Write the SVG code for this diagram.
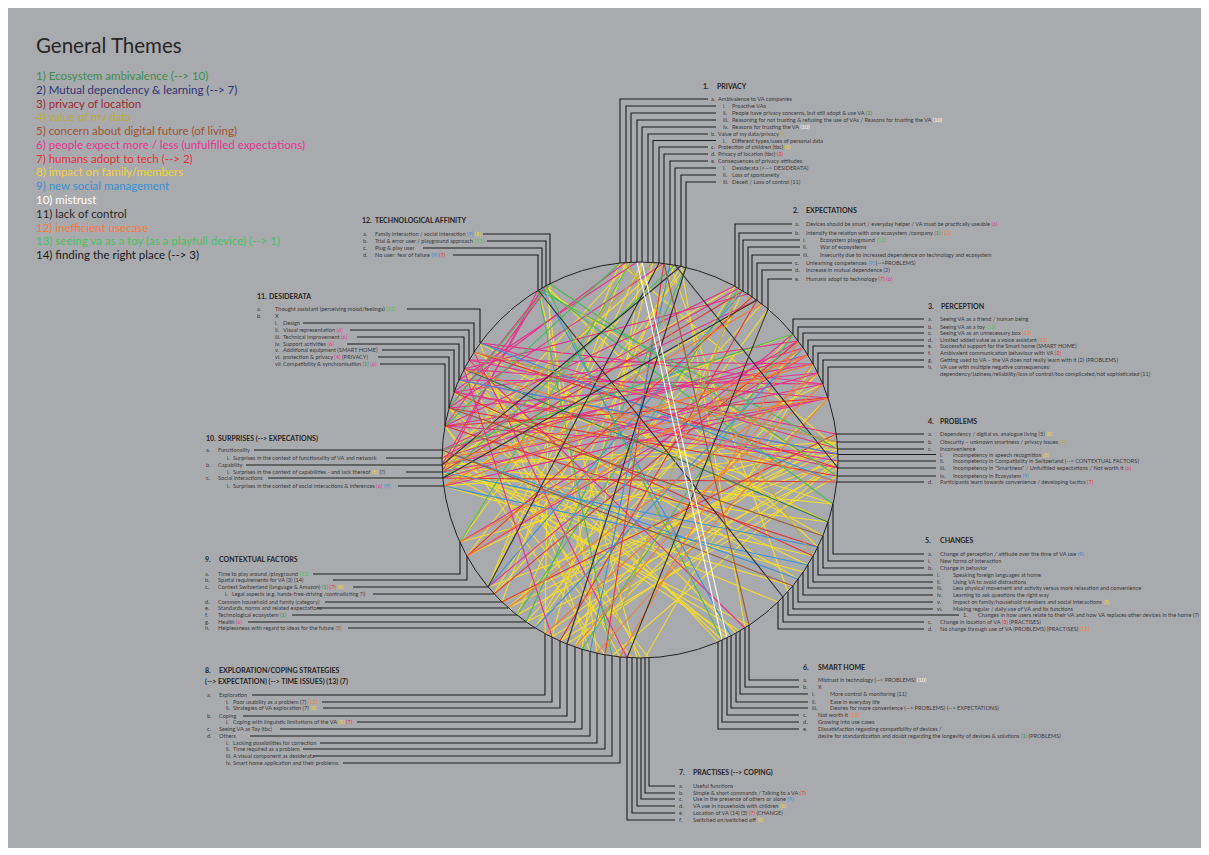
<svg xmlns="http://www.w3.org/2000/svg" width="1209" height="855" viewBox="0 0 1209 855">
<style>
.t{font-family:Lato,"Liberation Sans",sans-serif;font-size:5.6px;fill:#3a3a3c}
.h{font-family:Lato,"Liberation Sans",sans-serif;font-size:7px;font-weight:bold;fill:#262626}
.lg{font-family:Lato,"Liberation Sans",sans-serif;font-size:11.5px}
.cn{fill:none;stroke:#1c1c1c;stroke-width:1.1}
.ch line{stroke-width:1.1}
.c1{fill:#3d8d4f}.c2{fill:#2d3573}.c3{fill:#9c2a36}.c4{fill:#b8ab3f}.c5{fill:#9c5530}.c6{fill:#e2378e}.c7{fill:#e2343c}.c8{fill:#f1d23a}.c9{fill:#3a90d4}.c10{fill:#ffffff}.c11{fill:#2a2a2a}.c12{fill:#f17a3e}.c13{fill:#4cc160}.c14{fill:#1a1a1a}
.y{stroke:#f3dc2c}.p{stroke:#e6338b}.r{stroke:#e2343a}.g{stroke:#4ab95a}.dg{stroke:#2f7d45}.b{stroke:#3d93d6}.o{stroke:#f27b38}.w{stroke:#ffffff}.k{stroke:#2e2e33}.ol{stroke:#b8a84a}.br{stroke:#9c5a3a}
</style>
<rect x="0" y="0" width="1209" height="855" fill="#ffffff"/>
<rect x="8" y="8" width="1193" height="840" fill="#a9aaae"/>

<g id="legend">
<text x="36" y="53" font-family="Lato,'Liberation Sans',sans-serif" font-size="20.5" fill="#262626">General Themes</text>
<text class="lg c1" x="36" y="80">1) Ecosystem ambivalence (--&gt; 10)</text>
<text class="lg c2" x="36" y="93.8">2) Mutual dependency &amp; learning (--&gt; 7)</text>
<text class="lg c3" x="36" y="107.5">3) privacy of location</text>
<text class="lg c4" x="36" y="121.3">4) value of my data</text>
<text class="lg c5" x="36" y="135.1">5) concern about digital future (of living)</text>
<text class="lg c6" x="36" y="148.9">6) people expect more / less (unfulfilled expectations)</text>
<text class="lg c7" x="36" y="162.6">7) humans adopt to tech (--&gt; 2)</text>
<text class="lg c8" x="36" y="176.4">8) impact on family/members</text>
<text class="lg c9" x="36" y="190.2">9) new social management</text>
<text class="lg c10" x="36" y="203.9">10) mistrust</text>
<text class="lg c11" x="36" y="217.7">11) lack of control</text>
<text class="lg c12" x="36" y="231.5">12) inefficient usecase</text>
<text class="lg c13" x="36" y="245.3">13) seeing va as a toy (as a playfull device) (--&gt; 1)</text>
<text class="lg c14" x="36" y="259">14) finding the right place (--&gt; 3)</text>
</g>

<g id="chords" class="ch">
<line class="y" x1="442" y1="465" x2="838" y2="449"/>
<line class="y" x1="442" y1="465" x2="837" y2="442"/>
<line class="y" x1="442" y1="465" x2="833" y2="504"/>
<line class="y" x1="442" y1="465" x2="735" y2="286"/>
<line class="y" x1="442" y1="465" x2="631" y2="262"/>
<line class="y" x1="442" y1="472" x2="828" y2="522"/>
<line class="y" x1="442" y1="472" x2="813" y2="556"/>
<line class="y" x1="442" y1="472" x2="749" y2="625"/>
<line class="y" x1="442" y1="458" x2="664" y2="263"/>
<line class="y" x1="442" y1="458" x2="793" y2="334"/>
<line class="y" x1="444" y1="486" x2="838" y2="454"/>
<line class="y" x1="444" y1="486" x2="757" y2="300"/>
<line class="y" x1="460" y1="542" x2="659" y2="263"/>
<line class="y" x1="460" y1="542" x2="837" y2="442"/>
<line class="y" x1="467" y1="556" x2="686" y2="267"/>
<line class="y" x1="467" y1="556" x2="823" y2="384"/>
<line class="y" x1="488" y1="587" x2="642" y2="262"/>
<line class="y" x1="488" y1="587" x2="838" y2="461"/>
<line class="y" x1="494" y1="594" x2="762" y2="304"/>
<line class="y" x1="502" y1="602" x2="626" y2="262"/>
<line class="y" x1="508" y1="608" x2="803" y2="348"/>
<line class="y" x1="517" y1="615" x2="675" y2="265"/>
<line class="y" x1="526" y1="622" x2="838" y2="468"/>
<line class="y" x1="535" y1="628" x2="768" y2="309"/>
<line class="y" x1="545" y1="634" x2="550" y2="284"/>
<line class="y" x1="552" y1="637" x2="653" y2="262"/>
<line class="y" x1="560" y1="641" x2="818" y2="373"/>
<line class="y" x1="575" y1="647" x2="743" y2="291"/>
<line class="y" x1="590" y1="652" x2="480" y2="343"/>
<line class="y" x1="605" y1="655" x2="445" y2="426"/>
<line class="y" x1="620" y1="657" x2="464" y2="369"/>
<line class="y" x1="637" y1="658" x2="538" y2="290"/>
<line class="y" x1="641" y1="658" x2="474" y2="352"/>
<line class="y" x1="727" y1="638" x2="449" y2="408"/>
<line class="y" x1="736" y1="633" x2="469" y2="360"/>
<line class="y" x1="798" y1="579" x2="459" y2="380"/>
<line class="y" x1="808" y1="565" x2="454" y2="392"/>
<line class="y" x1="818" y1="547" x2="546" y2="286"/>
<line class="y" x1="838" y1="449" x2="620" y2="263"/>
<line class="y" x1="837" y1="476" x2="542" y2="288"/>
<line class="y" x1="836" y1="434" x2="545" y2="634"/>
<line class="y" x1="838" y1="461" x2="567" y2="644"/>
<line class="y" x1="823" y1="536" x2="480" y2="343"/>
<line class="y" x1="788" y1="592" x2="670" y2="264"/>
<line class="y" x1="745" y1="628" x2="681" y2="266"/>
<line class="y" x1="502" y1="602" x2="838" y2="449"/>
<line class="y" x1="508" y1="608" x2="837" y2="442"/>
<line class="y" x1="517" y1="615" x2="836" y2="434"/>
<line class="y" x1="526" y1="622" x2="793" y2="334"/>
<line class="y" x1="535" y1="628" x2="735" y2="286"/>
<line class="y" x1="494" y1="594" x2="681" y2="266"/>
<line class="y" x1="488" y1="587" x2="620" y2="263"/>
<line class="y" x1="460" y1="542" x2="631" y2="262"/>
<line class="y" x1="467" y1="556" x2="752" y2="297"/>
<line class="y" x1="552" y1="637" x2="838" y2="454"/>
<line class="y" x1="560" y1="641" x2="837" y2="476"/>
<line class="y" x1="575" y1="647" x2="828" y2="398"/>
<line class="y" x1="582" y1="649" x2="642" y2="262"/>
<line class="y" x1="597" y1="653" x2="546" y2="286"/>
<line class="y" x1="612" y1="656" x2="838" y2="461"/>
<line class="y" x1="627" y1="658" x2="768" y2="309"/>
<line class="y" x1="632" y1="658" x2="445" y2="426"/>
<line class="y" x1="645" y1="658" x2="813" y2="364"/>
<line class="y" x1="649" y1="658" x2="449" y2="408"/>
<line class="y" x1="740" y1="631" x2="442" y2="458"/>
<line class="y" x1="731" y1="636" x2="442" y2="450"/>
<line class="y" x1="722" y1="640" x2="454" y2="392"/>
<line class="y" x1="718" y1="642" x2="464" y2="369"/>
<line class="y" x1="778" y1="602" x2="442" y2="465"/>
<line class="y" x1="793" y1="586" x2="444" y2="486"/>
<line class="y" x1="803" y1="572" x2="442" y2="472"/>
<line class="y" x1="828" y1="522" x2="474" y2="352"/>
<line class="y" x1="833" y1="504" x2="459" y2="380"/>
<line class="p" x1="480" y1="343" x2="838" y2="449"/>
<line class="p" x1="474" y1="352" x2="837" y2="442"/>
<line class="p" x1="469" y1="360" x2="836" y2="434"/>
<line class="p" x1="464" y1="369" x2="828" y2="398"/>
<line class="p" x1="459" y1="380" x2="823" y2="384"/>
<line class="p" x1="454" y1="392" x2="838" y2="461"/>
<line class="p" x1="449" y1="408" x2="818" y2="373"/>
<line class="p" x1="445" y1="426" x2="813" y2="364"/>
<line class="p" x1="442" y1="450" x2="808" y2="355"/>
<line class="p" x1="442" y1="458" x2="803" y2="348"/>
<line class="p" x1="469" y1="360" x2="745" y2="628"/>
<line class="p" x1="474" y1="352" x2="627" y2="658"/>
<line class="p" x1="464" y1="369" x2="552" y2="637"/>
<line class="p" x1="459" y1="380" x2="838" y2="454"/>
<line class="p" x1="454" y1="392" x2="798" y2="341"/>
<line class="p" x1="445" y1="426" x2="550" y2="284"/>
<line class="p" x1="449" y1="408" x2="546" y2="286"/>
<line class="p" x1="454" y1="392" x2="626" y2="262"/>
<line class="p" x1="442" y1="465" x2="542" y2="288"/>
<line class="p" x1="442" y1="472" x2="538" y2="290"/>
<line class="p" x1="459" y1="380" x2="637" y2="262"/>
<line class="p" x1="445" y1="426" x2="735" y2="286"/>
<line class="p" x1="449" y1="408" x2="664" y2="263"/>
<line class="p" x1="442" y1="450" x2="757" y2="300"/>
<line class="p" x1="442" y1="458" x2="739" y2="288"/>
<line class="p" x1="443" y1="478" x2="818" y2="373"/>
<line class="p" x1="444" y1="486" x2="828" y2="398"/>
<line class="p" x1="460" y1="542" x2="798" y2="341"/>
<line class="p" x1="467" y1="556" x2="808" y2="355"/>
<line class="p" x1="464" y1="369" x2="748" y2="294"/>
<line class="p" x1="469" y1="360" x2="813" y2="364"/>
<line class="p" x1="480" y1="343" x2="823" y2="384"/>
<line class="p" x1="454" y1="392" x2="838" y2="468"/>
<line class="p" x1="442" y1="465" x2="823" y2="384"/>
<line class="p" x1="442" y1="472" x2="828" y2="398"/>
<line class="p" x1="488" y1="587" x2="793" y2="334"/>
<line class="p" x1="445" y1="426" x2="838" y2="454"/>
<line class="r" x1="474" y1="352" x2="838" y2="468"/>
<line class="r" x1="449" y1="408" x2="837" y2="476"/>
<line class="r" x1="443" y1="478" x2="837" y2="482"/>
<line class="r" x1="757" y1="300" x2="560" y2="641"/>
<line class="r" x1="798" y1="341" x2="494" y2="594"/>
<line class="r" x1="836" y1="434" x2="502" y2="602"/>
<line class="r" x1="664" y1="263" x2="605" y2="655"/>
<line class="r" x1="828" y1="398" x2="445" y2="426"/>
<line class="r" x1="752" y1="297" x2="467" y2="556"/>
<line class="r" x1="813" y1="556" x2="454" y2="392"/>
<line class="r" x1="743" y1="291" x2="442" y2="472"/>
<line class="r" x1="818" y1="547" x2="445" y2="426"/>
<line class="g" x1="550" y1="284" x2="837" y2="476"/>
<line class="g" x1="546" y1="286" x2="722" y2="640"/>
<line class="g" x1="542" y1="288" x2="833" y2="504"/>
<line class="g" x1="538" y1="290" x2="612" y2="656"/>
<line class="g" x1="620" y1="263" x2="445" y2="426"/>
<line class="g" x1="631" y1="262" x2="460" y2="542"/>
<line class="g" x1="550" y1="284" x2="449" y2="408"/>
<line class="g" x1="538" y1="290" x2="838" y2="449"/>
<line class="g" x1="739" y1="288" x2="517" y2="615"/>
<line class="g" x1="793" y1="334" x2="582" y2="649"/>
<line class="dg" x1="828" y1="522" x2="464" y2="369"/>
<line class="g" x1="686" y1="267" x2="526" y2="622"/>
<line class="g" x1="442" y1="450" x2="793" y2="334"/>
<line class="g" x1="443" y1="478" x2="675" y2="265"/>
<line class="b" x1="442" y1="472" x2="818" y2="547"/>
<line class="b" x1="444" y1="486" x2="808" y2="565"/>
<line class="b" x1="743" y1="291" x2="488" y2="587"/>
<line class="b" x1="803" y1="348" x2="535" y2="628"/>
<line class="b" x1="838" y1="454" x2="459" y2="380"/>
<line class="b" x1="731" y1="636" x2="542" y2="288"/>
<line class="b" x1="670" y1="264" x2="590" y2="652"/>
<line class="b" x1="798" y1="579" x2="442" y2="450"/>
<line class="b" x1="837" y1="482" x2="480" y2="343"/>
<line class="o" x1="823" y1="384" x2="545" y2="634"/>
<line class="o" x1="818" y1="373" x2="508" y2="608"/>
<line class="o" x1="813" y1="364" x2="575" y2="647"/>
<line class="o" x1="808" y1="355" x2="460" y2="542"/>
<line class="o" x1="828" y1="398" x2="597" y2="653"/>
<line class="o" x1="803" y1="348" x2="467" y2="556"/>
<line class="o" x1="837" y1="482" x2="464" y2="369"/>
<line class="o" x1="798" y1="341" x2="620" y2="657"/>
<line class="o" x1="828" y1="398" x2="442" y2="458"/>
<line class="o" x1="762" y1="304" x2="444" y2="486"/>
<line class="o" x1="813" y1="364" x2="442" y2="465"/>
<line class="o" x1="808" y1="355" x2="444" y2="486"/>
<line class="k" x1="681" y1="266" x2="442" y2="465"/>
<line class="k" x1="757" y1="300" x2="443" y2="478"/>
<line class="k" x1="675" y1="265" x2="838" y2="468"/>
<line class="k" x1="783" y1="597" x2="538" y2="290"/>
<line class="k" x1="659" y1="263" x2="488" y2="587"/>
<line class="k" x1="768" y1="309" x2="627" y2="658"/>
<line class="k" x1="686" y1="267" x2="567" y2="644"/>
<line class="ol" x1="653" y1="262" x2="442" y2="472"/>
<line class="ol" x1="739" y1="288" x2="605" y2="655"/>
<line class="ol" x1="813" y1="556" x2="626" y2="262"/>
<line class="ol" x1="837" y1="442" x2="474" y2="352"/>
<line class="br" x1="823" y1="536" x2="449" y2="408"/>
<line class="br" x1="664" y1="263" x2="749" y2="625"/>
<line class="br" x1="793" y1="586" x2="442" y2="450"/>
<line class="w" x1="637" y1="262" x2="722" y2="640" stroke-width="1.6"/>
<line class="w" x1="642" y1="262" x2="727" y2="638"/>
</g>

<circle id="circle" cx="640" cy="460" r="198" fill="none" stroke="#222" stroke-width="1"/>

<g id="connectors" class="cn">
<polyline points="708,99 620,99 620,263"/>
<polyline points="716,106 626,106 626,262"/>
<polyline points="716,113 631,113 631,262"/>
<polyline points="716,120 637,120 637,262"/>
<polyline points="716,127 642,127 642,262"/>
<polyline points="708,134 648,134 648,262"/>
<polyline points="716,140.5 653,140.5 653,262"/>
<polyline points="708,147 659,147 659,263"/>
<polyline points="708,154 664,154 664,263"/>
<polyline points="708,161 670,161 670,264"/>
<polyline points="716,168 675,168 675,265"/>
<polyline points="716,175 681,175 681,266"/>
<polyline points="716,182 686,182 686,267"/>

<polyline points="792,224 735,224 735,286"/>
<polyline points="792,233 739,233 739,288"/>
<polyline points="800,240 743,240 743,291"/>
<polyline points="800,247 748,247 748,294"/>
<polyline points="800,255 752,255 752,297"/>
<polyline points="792,263 757,263 757,300"/>
<polyline points="792,270 762,270 762,304"/>
<polyline points="792,279 768,279 768,309"/>

<polyline points="924,319 793,319 793,334"/>
<polyline points="924,327 798,327 798,341"/>
<polyline points="924,333 803,333 803,348"/>
<polyline points="924,340 808,340 808,355"/>
<polyline points="924,346 813,346 813,364"/>
<polyline points="924,353 818,353 818,373"/>
<polyline points="924,360 823,360 823,384"/>
<polyline points="924,367 828,367 828,398"/>

<polyline points="836,434 924,434"/>
<polyline points="837,442 924,442"/>
<polyline points="838,449 924,449"/>
<polyline points="838,454.5 936,454.5"/>
<polyline points="838,461 936,461"/>
<polyline points="838,468 936,468"/>
<polyline points="837,476 936,476"/>
<polyline points="837,482 924,482"/>

<polyline points="924,554 833,554 833,504"/>
<polyline points="924,561 828,561 828,522"/>
<polyline points="924,568 823,568 823,536"/>
<polyline points="933,575 818,575 818,547"/>
<polyline points="933,582 813,582 813,556"/>
<polyline points="933,588 808,588 808,565"/>
<polyline points="933,595 803,595 803,572"/>
<polyline points="933,602 798,602 798,579"/>
<polyline points="933,609 793,609 793,586"/>
<polyline points="959,615 788,615 788,592"/>
<polyline points="924,622 783,622 783,597"/>
<polyline points="924,629 778,629 778,602"/>

<polyline points="799,680 749,680 749,625"/>
<polyline points="799,687 745,687 745,628"/>
<polyline points="808,694 740,694 740,631"/>
<polyline points="808,702 736,702 736,633"/>
<polyline points="808,708 731,708 731,636"/>
<polyline points="799,715 727,715 727,638"/>
<polyline points="799,722 722,722 722,640"/>
<polyline points="799,729 718,729 718,642"/>

<polyline points="675,786 649,786 649,658"/>
<polyline points="675,793 645,793 645,658"/>
<polyline points="675,799 641,799 641,658"/>
<polyline points="675,806 637,806 637,658"/>
<polyline points="675,813 632,813 632,658"/>
<polyline points="675,820 627,820 627,658"/>

<polyline points="252,695 545,695 545,634"/>
<polyline points="322,702 552,702 552,637"/>
<polyline points="323,708 560,708 560,641"/>
<polyline points="243,716 567,716 567,644"/>
<polyline points="357,722 575,722 575,647"/>
<polyline points="280,729 582,729 582,649"/>
<polyline points="250,736 590,736 590,652"/>
<polyline points="320,743 597,743 597,653"/>
<polyline points="303,749 605,749 605,655"/>
<polyline points="313,756 612,756 612,656"/>
<polyline points="343,763 620,763 620,657"/>

<polyline points="313,574 460,574 460,542"/>
<polyline points="333,580 467,580 467,556"/>
<polyline points="353,587 488,587"/>
<polyline points="373,594 494,594"/>
<polyline points="325,602 502,602"/>
<polyline points="317,608 508,608"/>
<polyline points="292,615 517,615"/>
<polyline points="248,622 526,622"/>
<polyline points="348,628 535,628"/>

<polyline points="254,450 442,450"/>
<polyline points="386,458 442,458"/>
<polyline points="246,465 442,465"/>
<polyline points="406,472 442,472"/>
<polyline points="268,478 443,478"/>
<polyline points="398,486 444,486"/>

<polyline points="407,309 480,309 480,343"/>
<polyline points="303,323 474,323 474,352"/>
<polyline points="350,330 469,330 469,360"/>
<polyline points="357,337 464,337 464,369"/>
<polyline points="347,344 459,344 459,380"/>
<polyline points="382,350 454,350 454,392"/>
<polyline points="378,357 449,357 449,408"/>
<polyline points="380,364 445,364 445,426"/>

<polyline points="483,234 550,234 550,284"/>
<polyline points="487,241 546,241 546,286"/>
<polyline points="423,248 542,248 542,288"/>
<polyline points="453,255 538,255 538,290"/>
</g>

<g id="privacy">
<text class="h" x="703" y="88.5">1.</text><text class="h" x="717" y="88.5">PRIVACY</text>
<text class="t" x="711" y="101">a.</text><text class="t" x="718" y="101">Ambivalence to VA companies</text>
<text class="t" x="723" y="108">i.</text><text class="t" x="732" y="108">Proactive VAs</text>
<text class="t" x="723" y="115">ii.</text><text class="t" x="732" y="115">People have privacy concerns, but still adopt &amp; use VA <tspan class="c1">(1)</tspan></text>
<text class="t" x="723" y="122">iii.</text><text class="t" x="732" y="122">Reasoning for not trusting &amp; refusing the use of VAs / Reasons for trusting the VA <tspan class="c10">(10)</tspan></text>
<text class="t" x="723" y="129">iv.</text><text class="t" x="732" y="129">Reasons for trusting the VA <tspan class="c10">(10)</tspan></text>
<text class="t" x="711" y="136">b.</text><text class="t" x="718" y="136">Value of my data/privacy <tspan class="c4">(4)</tspan></text>
<text class="t" x="723" y="142.5">i.</text><text class="t" x="732" y="142.5">Different types/uses of personal data</text>
<text class="t" x="711" y="149">c.</text><text class="t" x="718" y="149">Protection of children (tbc) <tspan class="c8">(8)</tspan></text>
<text class="t" x="711" y="156">d.</text><text class="t" x="718" y="156">Privacy of location (tbc) <tspan class="c7">(3)</tspan></text>
<text class="t" x="711" y="163">e.</text><text class="t" x="718" y="163">Consequences of privacy attitudes</text>
<text class="t" x="723" y="170">i.</text><text class="t" x="732" y="170">Desiderata (&lt;--&gt; DESIDERATA)</text>
<text class="t" x="723" y="177">ii.</text><text class="t" x="732" y="177">Loss of spontaneity</text>
<text class="t" x="723" y="184">iii.</text><text class="t" x="732" y="184">Deceit / Loss of control (11)</text>
</g>

<g id="expectations">
<text class="h" x="793" y="212.5">2.</text><text class="h" x="806" y="212.5">EXPECTATIONS</text>
<text class="t" x="795" y="226.2">a.</text><text class="t" x="806" y="226.2">Devices should be smart / everyday helper / VA must be practically useable <tspan class="c6">(6)</tspan></text>
<text class="t" x="795" y="234.7">b.</text><text class="t" x="806" y="234.7">Intensify the relation with one ecosystem /company <tspan class="c1">(1)</tspan> <tspan class="c12">(12)</tspan></text>
<text class="t" x="803" y="242.2">i.</text><text class="t" x="820" y="242.2">Ecosystem playground <tspan class="c13">(13)</tspan></text>
<text class="t" x="803" y="249.2">ii.</text><text class="t" x="820" y="249.2">War of ecosystems</text>
<text class="t" x="803" y="257.2">iii.</text><text class="t" x="820" y="257.2">Insecurity due to increased dependence on technology and ecosystem</text>
<text class="t" x="795" y="264.7">c.</text><text class="t" x="806" y="264.7">Unlearning competences <tspan class="c9">(9)</tspan> (--&gt;PROBLEMS)</text>
<text class="t" x="795" y="272.2">d.</text><text class="t" x="806" y="272.2">Increase in mutual dependence <tspan class="c2">(2)</tspan></text>
<text class="t" x="795" y="280.7">e.</text><text class="t" x="806" y="280.7">Humans adopt to technology <tspan class="c7">(7)</tspan> <tspan class="c6">(6)</tspan></text>
</g>

<g id="perception">
<text class="h" x="928" y="308.5">3.</text><text class="h" x="941" y="308.5">PERCEPTION</text>
<text class="t" x="928" y="321">a.</text><text class="t" x="940" y="321">Seeing VA as a friend / human being</text>
<text class="t" x="928" y="329">b.</text><text class="t" x="940" y="329">Seeing VA as a toy <tspan class="c13">(13)</tspan></text>
<text class="t" x="928" y="335">c.</text><text class="t" x="940" y="335">Seeing VA as an unnecessary box <tspan class="c12">(12)</tspan></text>
<text class="t" x="928" y="342">d.</text><text class="t" x="940" y="342">Limited added value as a voice assistant <tspan class="c12">(12)</tspan></text>
<text class="t" x="928" y="348">e.</text><text class="t" x="940" y="348">Successful support for the Smart home (SMART HOME)</text>
<text class="t" x="928" y="355">f.</text><text class="t" x="940" y="355">Ambivalent communication behaviour with VA <tspan class="c7">(2)</tspan></text>
<text class="t" x="928" y="362">g.</text><text class="t" x="940" y="362">Getting used to VA – the VA does not really learn with it (2) (PROBLEMS)</text>
<text class="t" x="928" y="369">h.</text><text class="t" x="940" y="369">VA use with multiple negative consequences:</text>
<text class="t" x="940" y="375.5">dependency/laziness/reliability/loss of control/too complicated/not sophisticated (11)</text>
</g>

<g id="problems">
<text class="h" x="928" y="423.5">4.</text><text class="h" x="940" y="423.5">PROBLEMS</text>
<text class="t" x="928" y="436">a.</text><text class="t" x="940" y="436">Dependency / digital vs. analogue living (5) <tspan class="c8">(8)</tspan></text>
<text class="t" x="928" y="444">b.</text><text class="t" x="940" y="444">Obscurity – unknown smartness / privacy issues <tspan class="c4">(4)</tspan></text>
<text class="t" x="928" y="451">c.</text><text class="t" x="940" y="451">Inconvenience</text>
<text class="t" x="940" y="456.5">i.</text><text class="t" x="953" y="456.5">Incompetency in speech recognition <tspan class="c8">(8)</tspan></text>
<text class="t" x="940" y="463">ii.</text><text class="t" x="953" y="463">Incompetency in Compatibility in Switzerland (--&gt; CONTEXTUAL FACTORS)</text>
<text class="t" x="940" y="470">iii.</text><text class="t" x="953" y="470">Incompetency in "Smartness" / Unfulfilled expectations / Not worth it <tspan class="c6">(6)</tspan></text>
<text class="t" x="940" y="478">iv.</text><text class="t" x="953" y="478">Incompetency in Ecosystem <tspan class="c9">(9)</tspan></text>
<text class="t" x="928" y="484">d.</text><text class="t" x="940" y="484">Participants learn towards convenience / developing tactics <tspan class="c7">(7)</tspan></text>
</g>

<g id="changes">
<text class="h" x="925" y="542.5">5.</text><text class="h" x="940" y="542.5">CHANGES</text>
<text class="t" x="928" y="556">a.</text><text class="t" x="940" y="556">Change of perception / attitude over the time of VA use <tspan class="c9">(9)</tspan></text>
<text class="t" x="928" y="563">i.</text><text class="t" x="940" y="563">New forms of interaction</text>
<text class="t" x="928" y="570">b.</text><text class="t" x="940" y="570">Change in behavior</text>
<text class="t" x="937" y="577">i.</text><text class="t" x="953" y="577">Speaking foreign languages at home</text>
<text class="t" x="937" y="584">ii.</text><text class="t" x="953" y="584">Using VA to avoid distractions</text>
<text class="t" x="937" y="590">iii.</text><text class="t" x="953" y="590">Less physical movement and activity versus more relaxation and convenience</text>
<text class="t" x="937" y="597">iv.</text><text class="t" x="953" y="597">Learning to ask questions the right way</text>
<text class="t" x="937" y="604">v.</text><text class="t" x="953" y="604">Impact on family/household members and social interactions <tspan class="c8">(8)</tspan></text>
<text class="t" x="937" y="611">vi.</text><text class="t" x="953" y="611">Making regular / daily use of VA and its functions</text>
<text class="t" x="963" y="617">1.</text><text class="t" x="978" y="617">Changes in how users relate to their VA and how VA replaces other devices in the home (7)</text>
<text class="t" x="928" y="624">c.</text><text class="t" x="940" y="624">Change in location of VA <tspan class="c7">(3)</tspan> (PRACTISES)</text>
<text class="t" x="928" y="631">d.</text><text class="t" x="940" y="631">No change through use of VA (PROBLEMS) (PRACTISES) <tspan class="c12">(12)</tspan></text>
</g>

<g id="smarthome">
<text class="h" x="803" y="669.5">6.</text><text class="h" x="818" y="669.5">SMART HOME</text>
<text class="t" x="803" y="682">a.</text><text class="t" x="818" y="682">Mistrust in technology (--&gt; PROBLEMS) <tspan class="c10">(10)</tspan></text>
<text class="t" x="803" y="689">b.</text><text class="t" x="818" y="689">X</text>
<text class="t" x="812" y="696">i.</text><text class="t" x="830" y="696">More control &amp; monitoring (11)</text>
<text class="t" x="812" y="704">ii.</text><text class="t" x="830" y="704">Ease in everyday life</text>
<text class="t" x="812" y="710">iii.</text><text class="t" x="830" y="710">Desires for more convenience (--&gt; PROBLEMS) (--&gt; EXPECTATIONS)</text>
<text class="t" x="803" y="717">c.</text><text class="t" x="818" y="717">Not worth it <tspan class="c12">(12)</tspan></text>
<text class="t" x="803" y="724">d.</text><text class="t" x="818" y="724">Growing into use cases</text>
<text class="t" x="803" y="731">e.</text><text class="t" x="818" y="731">Dissatisfaction regarding compatibility of devices /</text>
<text class="t" x="818" y="737.5">desire for standardization and doubt regarding the longevity of devices &amp; solutions <tspan class="c1">(1)</tspan> (PROBLEMS)</text>
</g>

<g id="practises">
<text class="h" x="679" y="774.5">7.</text><text class="h" x="693" y="774.5">PRACTISES (--&gt; COPING)</text>
<text class="t" x="679" y="788">a.</text><text class="t" x="693" y="788">Useful functions</text>
<text class="t" x="679" y="795">b.</text><text class="t" x="693" y="795">Simple &amp; short commands / Talking to a VA <tspan class="c7">(7)</tspan></text>
<text class="t" x="679" y="801">c.</text><text class="t" x="693" y="801">Use in the presence of others or alone <tspan class="c9">(9)</tspan></text>
<text class="t" x="679" y="808">d.</text><text class="t" x="693" y="808">VA use in households with children <tspan class="c8">(8)</tspan></text>
<text class="t" x="679" y="815">e.</text><text class="t" x="693" y="815">Location of VA (14) (3) <tspan class="c7">(7)</tspan> (CHANGE)</text>
<text class="t" x="679" y="822">f.</text><text class="t" x="693" y="822">Switched on/switched off <tspan class="c8">(8)</tspan></text>
</g>

<g id="exploration">
<text class="h" x="205" y="673">8.</text><text class="h" x="219" y="673">EXPLORATION/COPING STRATEGIES</text>
<text class="h" x="205" y="683.5">(--&gt; EXPECTATION) (--&gt; TIME ISSUES) (13) (7)</text>
<text class="t" x="207" y="697">a.</text><text class="t" x="219" y="697">Exploration</text>
<text class="t" x="226" y="704">i.</text><text class="t" x="233" y="704">Poor usability as a problem (7) <tspan class="c12">(12)</tspan></text>
<text class="t" x="226" y="710">ii.</text><text class="t" x="233" y="710">Strategies of VA exploration (7) <tspan class="c8">(8)</tspan></text>
<text class="t" x="207" y="718">b.</text><text class="t" x="219" y="718">Coping</text>
<text class="t" x="226" y="724">i.</text><text class="t" x="233" y="724">Coping with linguistic limitations of the VA <tspan class="c8">(8)</tspan> <tspan class="c7">(7)</tspan></text>
<text class="t" x="207" y="731">c.</text><text class="t" x="219" y="731">Seeing VA as Toy (tbc)</text>
<text class="t" x="207" y="738">d.</text><text class="t" x="219" y="738">Others</text>
<text class="t" x="226" y="745">i.</text><text class="t" x="233" y="745">Lacking possibilities for correction</text>
<text class="t" x="226" y="751">ii.</text><text class="t" x="233" y="751">Time required as a problem</text>
<text class="t" x="226" y="758">iii.</text><text class="t" x="233" y="758">A visual component as desiderata</text>
<text class="t" x="226" y="765">iv.</text><text class="t" x="233" y="765">Smart home application and their problems</text>
</g>

<g id="contextual">
<text class="h" x="205" y="561.5">9.</text><text class="h" x="219" y="561.5">CONTEXTUAL FACTORS</text>
<text class="t" x="205" y="576">a.</text><text class="t" x="218" y="576">Time to play around /playground <tspan class="c13">(13)</tspan></text>
<text class="t" x="205" y="582">b.</text><text class="t" x="218" y="582">Spatial requirements for VA (3) (14)</text>
<text class="t" x="205" y="589">c.</text><text class="t" x="218" y="589">Context Switzerland (language &amp; Amazon) <tspan class="c1">(1)</tspan> <tspan class="c7">(7)</tspan> <tspan class="c8">(8)</tspan></text>
<text class="t" x="225" y="596">i.</text><text class="t" x="232" y="596">Legal aspects (e.g. hands-free-driving /contradicting ?!)</text>
<text class="t" x="205" y="604">d.</text><text class="t" x="218" y="604">Common household and family (category)</text>
<text class="t" x="205" y="610">e.</text><text class="t" x="218" y="610">Standards, norms and related expectations</text>
<text class="t" x="205" y="617">f.</text><text class="t" x="218" y="617">Technological ecosystem <tspan class="c1">(1)</tspan></text>
<text class="t" x="205" y="624">g.</text><text class="t" x="218" y="624">Health <tspan class="c6">(6)</tspan></text>
<text class="t" x="205" y="630">h.</text><text class="t" x="218" y="630">Helplessness with regard to ideas for the future <tspan class="c5">(5)</tspan></text>
</g>

<g id="surprises">
<text class="h" x="206" y="440.5">10.</text><text class="h" x="218" y="440.5">SURPRISES (--&gt; EXPECATIONS)</text>
<text class="t" x="206" y="452">a.</text><text class="t" x="218" y="452">Functionality</text>
<text class="t" x="227" y="460">i.</text><text class="t" x="233" y="460">Surprises in the context of functionality of VA and network</text>
<text class="t" x="206" y="467">b.</text><text class="t" x="218" y="467">Capability</text>
<text class="t" x="227" y="474">i.</text><text class="t" x="233" y="474">Surprises in the context of capabilities - and lack thereof <tspan class="c8">(8)</tspan> (?)</text>
<text class="t" x="206" y="480">c.</text><text class="t" x="218" y="480">Social interactions</text>
<text class="t" x="227" y="488">i.</text><text class="t" x="233" y="488">Surprises in the context of social interactions &amp; inferences <tspan class="c6">(6)</tspan> <tspan class="c9">(9)</tspan></text>
</g>

<g id="desiderata">
<text class="h" x="257" y="298.5">11.</text><text class="h" x="269" y="298.5">DESIDERATA</text>
<text class="t" x="257" y="311">a.</text><text class="t" x="275" y="311">Thought assistant (perceiving mood/feelings) <tspan class="c13">(13)</tspan></text>
<text class="t" x="257" y="317.5">b.</text><text class="t" x="275" y="317.5">X</text>
<text class="t" x="275" y="325">i.</text><text class="t" x="283" y="325">Design</text>
<text class="t" x="275" y="332">ii.</text><text class="t" x="283" y="332">Visual representation <tspan class="c6">(6)</tspan></text>
<text class="t" x="275" y="339">iii.</text><text class="t" x="283" y="339">Technical improvement <tspan class="c6">(6)</tspan></text>
<text class="t" x="275" y="346">iv.</text><text class="t" x="283" y="346">Support activities <tspan class="c6">(6)</tspan></text>
<text class="t" x="275" y="352">v.</text><text class="t" x="283" y="352">Additional equipment (SMART HOME)</text>
<text class="t" x="275" y="359">vi.</text><text class="t" x="283" y="359">protection &amp; privacy <tspan class="c6">(4)</tspan> (PRIVACY)</text>
<text class="t" x="275" y="366">vii.</text><text class="t" x="283" y="366">Compatibility &amp; synchronisation <tspan class="c1">(1)</tspan> <tspan class="c6">(6)</tspan></text>
</g>

<g id="techaffinity">
<text class="h" x="362" y="222.5">12.</text><text class="h" x="375" y="222.5">TECHNOLOGICAL AFFINITY</text>
<text class="t" x="363" y="236">a.</text><text class="t" x="375" y="236">Family interaction / social interaction <tspan class="c9">(9)</tspan> <tspan class="c8">(8)</tspan></text>
<text class="t" x="363" y="243">b.</text><text class="t" x="375" y="243">Trial &amp; error user / playground approach <tspan class="c13">(13)</tspan></text>
<text class="t" x="363" y="250">c.</text><text class="t" x="375" y="250">Plug &amp; play user</text>
<text class="t" x="363" y="257">d.</text><text class="t" x="375" y="257">No user: fear of failure <tspan class="c9">(9)</tspan> <tspan class="c7">(7)</tspan></text>
</g>
</svg>
